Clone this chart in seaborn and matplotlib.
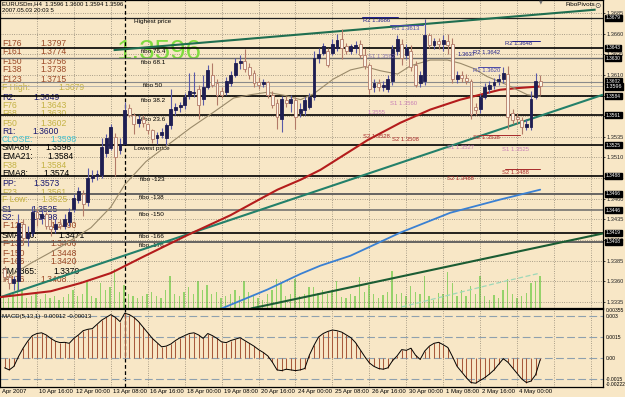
import matplotlib
matplotlib.use("Agg")
import matplotlib.pyplot as plt
import matplotlib.transforms as mtransforms
import numpy as np
import seaborn as sns

sns.set_style("white")
plt.rcParams["font.family"] = ["Liberation Sans", "DejaVu Sans"]

# ---------------- data (EURUSDm, H4) ----------------
opens = [1.3375, 1.3365, 1.3358, 1.3360, 1.3430, 1.3413, 1.3418, 1.3444, 1.3437, 1.3442,
         1.3427, 1.3423, 1.3430, 1.3427, 1.3432, 1.3447, 1.3459, 1.3466, 1.3456, 1.3485,
         1.3487, 1.3489, 1.3515, 1.3521, 1.3535, 1.3519, 1.3526, 1.3570, 1.3561, 1.3552,
         1.3557, 1.3550, 1.3543, 1.3533, 1.3537, 1.3533, 1.3549, 1.3567, 1.3571, 1.3573,
         1.3585, 1.3588, 1.3593, 1.3581, 1.3595, 1.3610, 1.3600, 1.3591, 1.3589, 1.3600,
         1.3610, 1.3624, 1.3627, 1.3619, 1.3612, 1.3601, 1.3599, 1.3601, 1.3586, 1.3576,
         1.3557, 1.3580, 1.3576, 1.3579, 1.3564, 1.3567, 1.3571, 1.3583, 1.3631, 1.3637,
         1.3639, 1.3636, 1.3643, 1.3653, 1.3645, 1.3639, 1.3643, 1.3648, 1.3634, 1.3622,
         1.3595, 1.3600, 1.3595, 1.3593, 1.3603, 1.3639, 1.3647, 1.3634, 1.3639, 1.3622,
         1.3600, 1.3603, 1.3658, 1.3646, 1.3651, 1.3647, 1.3651, 1.3648, 1.3605, 1.3610,
         1.3606, 1.3603, 1.3571, 1.3569, 1.3583, 1.3593, 1.3598, 1.3603, 1.3605, 1.3611,
         1.3564, 1.3559, 1.3555, 1.3547, 1.3547, 1.3583, 1.3603]
highs = [1.3379, 1.3370, 1.3367, 1.3442, 1.3435, 1.3427, 1.3451, 1.3449, 1.3447, 1.3444,
         1.3435, 1.3435, 1.3435, 1.3441, 1.3449, 1.3466, 1.3474, 1.3471, 1.3497, 1.3495,
         1.3495, 1.3533, 1.3539, 1.3550, 1.3540, 1.3533, 1.3577, 1.3575, 1.3564, 1.3562,
         1.3562, 1.3552, 1.3545, 1.3541, 1.3546, 1.3552, 1.3593, 1.3576, 1.3577, 1.3588,
         1.3612, 1.3613, 1.3598, 1.3610, 1.3622, 1.3624, 1.3605, 1.3595, 1.3607, 1.3615,
         1.3631, 1.3634, 1.3641, 1.3624, 1.3616, 1.3607, 1.3605, 1.3603, 1.3591, 1.3581,
         1.3585, 1.3585, 1.3586, 1.3583, 1.3576, 1.3583, 1.3588, 1.3639, 1.3643, 1.3649,
         1.3642, 1.3653, 1.3659, 1.3666, 1.3649, 1.3648, 1.3651, 1.3652, 1.3643, 1.3624,
         1.3605, 1.3605, 1.3603, 1.3610, 1.3646, 1.3658, 1.3653, 1.3648, 1.3646, 1.3627,
         1.3615, 1.3678, 1.3661, 1.3655, 1.3655, 1.3658, 1.3660, 1.3655, 1.3615, 1.3615,
         1.3611, 1.3605, 1.3576, 1.3587, 1.3600, 1.3603, 1.3606, 1.3611, 1.3619, 1.3621,
         1.3569, 1.3564, 1.3559, 1.3557, 1.3591, 1.3612, 1.3610]
lows = [1.3360, 1.3351, 1.3349, 1.3349, 1.3406, 1.3403, 1.3415, 1.3427, 1.3430, 1.3423,
        1.3415, 1.3418, 1.3423, 1.3423, 1.3427, 1.3444, 1.3455, 1.3439, 1.3451, 1.3480,
        1.3483, 1.3485, 1.3511, 1.3519, 1.3487, 1.3514, 1.3527, 1.3559, 1.3539, 1.3547,
        1.3547, 1.3539, 1.3527, 1.3526, 1.3533, 1.3525, 1.3545, 1.3562, 1.3565, 1.3569,
        1.3581, 1.3583, 1.3557, 1.3574, 1.3593, 1.3595, 1.3573, 1.3582, 1.3586, 1.3597,
        1.3607, 1.3617, 1.3613, 1.3605, 1.3595, 1.3593, 1.3595, 1.3582, 1.3570, 1.3545,
        1.3541, 1.3571, 1.3565, 1.3545, 1.3559, 1.3562, 1.3569, 1.3579, 1.3625, 1.3634,
        1.3619, 1.3634, 1.3639, 1.3629, 1.3635, 1.3635, 1.3637, 1.3631, 1.3617, 1.3587,
        1.3589, 1.3591, 1.3591, 1.3589, 1.3598, 1.3634, 1.3622, 1.3629, 1.3615, 1.3595,
        1.3595, 1.3598, 1.3642, 1.3641, 1.3641, 1.3639, 1.3635, 1.3600, 1.3600, 1.3601,
        1.3599, 1.3557, 1.3562, 1.3564, 1.3581, 1.3588, 1.3593, 1.3598, 1.3600, 1.3545,
        1.3550, 1.3551, 1.3539, 1.3543, 1.3543, 1.3581, 1.3586]
closes = [1.3365, 1.3358, 1.3363, 1.3431, 1.3413, 1.3418, 1.3444, 1.3437, 1.3442, 1.3427,
          1.3423, 1.3430, 1.3427, 1.3435, 1.3444, 1.3461, 1.3469, 1.3454, 1.3485, 1.3487,
          1.3490, 1.3523, 1.3533, 1.3547, 1.3511, 1.3526, 1.3568, 1.3562, 1.3551, 1.3557,
          1.3552, 1.3543, 1.3532, 1.3537, 1.3541, 1.3549, 1.3569, 1.3571, 1.3573, 1.3583,
          1.3591, 1.3589, 1.3574, 1.3595, 1.3616, 1.3598, 1.3586, 1.3586, 1.3603, 1.3610,
          1.3624, 1.3627, 1.3617, 1.3610, 1.3600, 1.3598, 1.3601, 1.3586, 1.3574, 1.3559,
          1.3581, 1.3576, 1.3581, 1.3559, 1.3569, 1.3579, 1.3583, 1.3631, 1.3635, 1.3645,
          1.3622, 1.3648, 1.3652, 1.3643, 1.3639, 1.3645, 1.3646, 1.3634, 1.3621, 1.3593,
          1.3600, 1.3595, 1.3598, 1.3605, 1.3641, 1.3653, 1.3631, 1.3643, 1.3619, 1.3598,
          1.3610, 1.3658, 1.3646, 1.3651, 1.3647, 1.3652, 1.3646, 1.3605, 1.3610, 1.3606,
          1.3603, 1.3563, 1.3567, 1.3583, 1.3595, 1.3598, 1.3601, 1.3605, 1.3612, 1.3559,
          1.3555, 1.3556, 1.3547, 1.3550, 1.3581, 1.3603, 1.3596]
volumes = [480, 400, 560, 1200, 720, 400, 480, 640, 360, 560,
           400, 480, 320, 440, 560, 720, 480, 560, 1040, 480,
           400, 960, 720, 800, 1520, 640, 880, 560, 480, 400,
           480, 560, 640, 480, 400, 720, 1240, 560, 480, 640,
           800, 560, 1040, 720, 880, 560, 640, 400, 480, 560,
           720, 480, 1040, 640, 480, 400, 320, 560, 720, 1120,
           960, 480, 560, 1120, 480, 560, 800, 800, 600, 720,
           560, 720, 1040, 440, 400, 560, 480, 1200, 640, 880,
           560, 400, 520, 640, 1440, 560, 600, 480, 840, 640,
           560, 1240, 480, 320, 600, 560, 1400, 960, 480, 720,
           480, 840, 560, 1240, 480, 320, 520, 400, 720, 1120,
           560, 400, 480, 600, 960, 1040, 1240]
macd = [-0.00070, -0.00085, -0.00060, 0.00010, 0.00070, 0.00120, 0.00160, 0.00175, 0.00180, 0.00165,
        0.00140, 0.00120, 0.00110, 0.00112, 0.00105, 0.00140, 0.00165, 0.00195, 0.00205, 0.00210,
        0.00240, 0.00270, 0.00290, 0.00310, 0.00290, 0.00260, 0.00320, 0.00310, 0.00290, 0.00260,
        0.00220, 0.00180, 0.00140, 0.00110, 0.00080, 0.00085, 0.00100, 0.00125, 0.00145, 0.00160,
        0.00175, 0.00180, 0.00165, 0.00140, 0.00175, 0.00160, 0.00140, 0.00115, 0.00110, 0.00125,
        0.00135, 0.00145, 0.00125, 0.00105, 0.00085, 0.00060, 0.00040, 0.00015, -0.00030, -0.00085,
        -0.00090, -0.00080, -0.00085, -0.00090, -0.00085, -0.00075, 0.00020, 0.00090, 0.00150, 0.00175,
        0.00190, 0.00200, 0.00195, 0.00185, 0.00165, 0.00145, 0.00110, 0.00060, 0.00010, -0.00035,
        -0.00060, -0.00075, -0.00080, -0.00070, -0.00020, 0.00015, 0.00060, 0.00055, 0.00070, 0.00020,
        -0.00010, 0.00050, 0.00085, 0.00105, 0.00112, 0.00095, 0.00075, 0.00010, -0.00060, -0.00100,
        -0.00140, -0.00175, -0.00180, -0.00160, -0.00140, -0.00115, -0.00085, -0.00045, -0.00005, -0.00030,
        -0.00070, -0.00110, -0.00150, -0.00175, -0.00165, -0.00120, -0.00012]

# moving averages (bar position, price)
sma89_bars = [0.2, 11.0, 17.5, 24.0, 31.1, 40.6, 49.9, 57.1, 60.1, 65.1, 69.4, 79.6, 86.7, 93.2, 99.7, 108.3, 112.0, 117.0]
sma89_vals = [1.3341, 1.3348, 1.3358, 1.3370, 1.3390, 1.3416, 1.3440, 1.3462, 1.3471, 1.3483, 1.3495, 1.3531,
              1.3552, 1.3568, 1.3580, 1.3592, 1.3594, 1.3596]
ema21_bars = [0.9, 6.7, 13.2, 19.7, 24.0, 27.0, 31.6, 36.3, 41.3, 46.3, 50.6, 54.3, 57.9, 61.8, 65.1, 67.9,
              72.2, 75.9, 79.1, 82.4, 86.1, 88.9, 93.2, 96.9, 99.7, 102.5, 105.5, 109.8, 114.2, 117.0]
ema21_vals = [1.3362, 1.3382, 1.3402, 1.3425, 1.3450, 1.3477, 1.3505, 1.3525, 1.3546, 1.3565, 1.3582, 1.3586,
              1.3589, 1.3585, 1.3580, 1.3587, 1.3605, 1.3616, 1.3620, 1.3615, 1.3611, 1.3621, 1.3628, 1.3628,
              1.3624, 1.3618, 1.3608, 1.3598, 1.3586, 1.3584]
sma200_bars = [47.1, 57.9, 65.1, 69.4, 75.9, 86.7, 97.5, 108.3, 117.0]
sma200_vals = [1.3325, 1.3350, 1.3369, 1.3379, 1.3391, 1.3419, 1.3443, 1.3459, 1.3471]
sma365_bars = [87.0, 97.0, 107.0, 117.0]
sma365_vals = [1.3329, 1.3343, 1.3357, 1.3370]

# trend lines (start/end bar, start/end price)
trend_x = [[24.6, 129.0], [0.2, 130.6], [54.3, 130.6]]
trend_y = [[1.3640, 1.3689], [1.3341, 1.3586], [1.3327, 1.3418]]

# fibonacci / horizontal levels
fibo_levels = [1.3679, 1.3643, 1.3630, 1.3602, 1.3584, 1.3561, 1.3525, 1.3488, 1.3466, 1.3446, 1.3419, 1.3408]
fibo_names = ["Highest price", "fibo 76.4", "fibo 68.1", "fibo 50", "fibo 38.2", "fibo 23.6",
              "Lowest price", "fibo -123", "fibo -138", "fibo -150", "fibo -166", "fibo -176"]
last_price = 1.3596

price_ticks = [1.3335, 1.3360, 1.3385, 1.3410, 1.3435, 1.3460, 1.3485, 1.3510, 1.3535,
               1.3560, 1.3585, 1.3610, 1.3635, 1.3660, 1.3685]
time_labels = ["Apr 2007", "10 Apr 16:00", "12 Apr 00:00", "13 Apr 08:00", "16 Apr 16:00",
               "18 Apr 00:00", "19 Apr 08:00", "20 Apr 16:00", "24 Apr 00:00", "25 Apr 08:00",
               "26 Apr 16:00", "30 Apr 00:00", "1 May 08:00", "2 May 16:00", "4 May 00:00"]

panel_names = ["F176", "F161", "F150", "F138", "F123", "F High:", "R2:", "F76", "F68", "F50", "R1:",
               "CLOSE:", "SMA89:", "EMA21:", "F38", "EMA8:", "PP:", "F23", "F Low:", "S1", "S2:",
               "F-123", "SMA200:", "F-138", "F-150", "F-166", "SMA365:", "F-176"]
panel_values = ["1.3797", "1.3774", "1.3756", "1.3738", "1.3715", "1.3679", "1.3649", "1.3643", "1.3630",
                "1.3602", "1.3600", "1.3598", "1.3596", "1.3584", "1.3584", "1.3574", "1.3573", "1.3561",
                "1.3525", "1.3525", "1.3498", "1.3490", "1.3471", "1.3466", "1.3448", "1.3420", "1.3370",
                "1.3408"]

pivot_texts = ["R2 1.3686", "R1 1.3613", "S1 1.3562", "1.3637", "R2 1.3642", "R2 1.3648", "R1 1.3620",
               "S1 1.3560", "1.3555", "S2 1.3528", "S2 1.3508", "S1 1.3527", "S2 1.3538", "S1 1.3525",
               "S2 1.3488", "S2 1.3488"]

# ---------------- layout / styling ----------------
W, H = 625, 397
BG = "#f8e7c6"
BROWN, GOLD, NAVY, CYAN, BLK = "#9c4a28", "#c4b244", "#191970", "#48c4d0", "#000000"
panel_y = [43, 52, 61, 70, 79, 87, 97, 106, 114, 123, 131, 140, 148, 157, 166, 174, 183, 192, 200,
           209, 217, 226, 235, 244, 253, 262, 271, 280]
panel_vx = [40, 40, 40, 40, 40, 58, 33, 40, 40, 40, 32, 50, 45, 47, 40, 43, 33, 40, 41, 31, 31,
            50, 58, 50, 50, 50, 53, 40]
panel_col = [BROWN] * 5 + [GOLD, NAVY, GOLD, GOLD, GOLD, NAVY, CYAN, BLK, BLK, GOLD, BLK, NAVY, GOLD,
                           GOLD, NAVY, NAVY, BROWN, BLK, BROWN, BROWN, BROWN, BLK, BROWN]

PNAV, PBLU, PPUR, PPNK, PRED = "#20208a", "#4a4aa8", "#8a7ab0", "#c77db5", "#a82a2a"
pivot_pos = [(78.7, 1.36753), (85.0, 1.36656), (79.8, 1.36317), (99.0, 1.36341), (102.5, 1.36366),
             (109.4, 1.36475), (102.5, 1.36148), (84.5, 1.35748), (79.6, 1.35639), (78.7, 1.35348),
             (85.0, 1.35312), (96.9, 1.35215), (102.5, 1.35336), (108.8, 1.35191), (96.9, 1.34840),
             (108.8, 1.34924)]
pivot_col = [PNAV, PBLU, PPUR, PNAV, PNAV, PNAV, PBLU, PPNK, PPNK, PRED, PRED, PPNK, PRED, PPNK, PRED, PRED]
pivot_segs = [(78.5, 86.1, 1.36802, PNAV), (84.5, 91.7, 1.36705, PBLU), (110.9, 117.0, 1.36511, PNAV),
              (103.6, 108.3, 1.36196, PBLU), (104.0, 112.6, 1.35372, PRED), (109.4, 117.0, 1.34961, PRED)]

level_col = ["#202020", "#000000", "#6a6a6a", "#8a8a8a", "#000000", "#000000", "#000000", "#000000",
             "#5a5a5a", "#6a6a6a", "#000000", "#5a5a5a"]
level_lw = [0.9, 1.2, 1.0, 0.8, 1.2, 1.2, 1.2, 1.2, 1.3, 1.1, 1.2, 1.3]
fibo_lbl_x = [29.0, 30.5, 30.5, 30.9, 30.5, 30.5, 29.0, 30.3, 30.1, 30.1, 30.1, 30.1]

XLIM = (0.216, 130.6)
YLIM = (1.33277, 1.37007)
grid_bars = [8 * k for k in range(17)]

fig = plt.figure(figsize=(W / 100, H / 100), dpi=100, facecolor=BG)
rect_main = [0, (H - 308) / H, 603 / W, 308 / H]
rect_macd = [0, (H - 387) / H, 603 / W, (387 - 309) / H]

axv = fig.add_axes(rect_main, label="vol")
ax = fig.add_axes(rect_main, label="main")
ax2 = fig.add_axes(rect_macd, label="macd")

bars = np.arange(1, len(closes) + 1)

# volume (behind)
axv.set_facecolor(BG)
axv.bar(bars, volumes, width=0.3, color="#95d26a", linewidth=0)
axv.set_xlim(*XLIM)
axv.set_ylim(0, 12000)
axv.set_xticks([]); axv.set_yticks([])
for s in axv.spines.values():
    s.set_visible(False)

# main axes
ax.patch.set_visible(False)
ax.set_xlim(*XLIM)
ax.set_ylim(*YLIM)
ax.yaxis.tick_right()
ax.set_yticks(price_ticks)
ax.set_yticklabels([f"{t:.4f}" for t in price_ticks], fontsize=4.1)
ax.tick_params(axis="y", length=1.5, pad=1.0, width=0.6)
ax.set_xticks(grid_bars)
ax.set_xticklabels([])
ax.tick_params(axis="x", length=0)
ax.grid(True, ls=(0, (1, 2)), color="#7d7566", lw=0.55)
for s in ax.spines.values():
    s.set_color("black"); s.set_linewidth(0.9)

# horizontal levels
for lvl, c, lw in zip(fibo_levels, level_col, level_lw):
    ax.axhline(lvl, color=c, lw=lw, zorder=2)
ax.axhline(last_price, color="#a8a8a8", lw=0.6, zorder=2)
off = mtransforms.offset_copy(ax.transData, fig=fig, x=0, y=-1.2, units="dots")
for bx, lvl, name in zip(fibo_lbl_x, fibo_levels, fibo_names):
    ax.text(bx, lvl, name, fontsize=4.6, color="black", va="top", ha="left", transform=off, zorder=2.5)

# vertical dashed marker line
ax.axvline(27.0, color="black", lw=0.9, ls=(0, (3, 2)), zorder=2)
ax2.axvline(27.0, color="black", lw=0.9, ls=(0, (3, 2)), zorder=2)

# trend lines
tcol = ["#1f6e50", "#23806a", "#1b5c33"]
for xs, ys, c in zip(trend_x, trend_y, tcol):
    ax.plot(xs, ys, color=c, lw=1.5, zorder=3, solid_capstyle="butt")

# moving averages
sns.lineplot(x=sma89_bars, y=sma89_vals, ax=ax, color="#b41c1c", lw=1.5, zorder=3.2)
sns.lineplot(x=ema21_bars, y=ema21_vals, ax=ax, color="#9a8a6a", lw=0.8, zorder=3.2)
sns.lineplot(x=sma200_bars, y=sma200_vals, ax=ax, color="#3a80d2", lw=1.3, zorder=3.2)
sns.lineplot(x=sma365_bars, y=sma365_vals, ax=ax, color="#9ed8b8", lw=0.9, ls=(0, (4, 2)), zorder=3.2)

# candles
o = np.array(opens); h = np.array(highs); l = np.array(lows); c = np.array(closes)
bull = c >= o
wick_col = np.where(bull, "#5a5aa8", "#b27a68")
ax.vlines(bars, l, h, colors=wick_col, lw=0.8, zorder=4)
bottoms = np.minimum(o, c)
heights = np.maximum(np.abs(c - o), 0.00008)
face = np.where(bull, "#1e1e52", "#fbf3e4")
edge = np.where(bull, "#1e1e52", "#b27a68")
ax.bar(bars, heights, bottom=bottoms, width=0.62, color=face, edgecolor=edge, linewidth=0.6, zorder=5)

# pivot labels
for (bx, py), txt, col in zip(pivot_pos, pivot_texts, pivot_col):
    ax.text(bx, py, txt, fontsize=4.2, color=col, va="center", ha="left", zorder=6)
for b1, b2, py, col in pivot_segs:
    ax.plot([b1, b2], [py, py], color=col, lw=0.7, zorder=6)

# right price boxes
rtrans = mtransforms.blended_transform_factory(ax.transAxes, ax.transData)
for lvl in fibo_levels:
    ax.text(1.005, lvl, f"{lvl:.4f}", transform=rtrans, fontsize=3.5, color="white", va="center",
            ha="left", clip_on=False, zorder=10,
            bbox=dict(boxstyle="square,pad=0.12", fc="black", ec="black"))
ax.text(1.005, last_price, f"{last_price:.4f}", transform=rtrans, fontsize=3.9, color="white",
        va="center", ha="left", clip_on=False, zorder=11,
        bbox=dict(boxstyle="square,pad=0.12", fc="black", ec="black"))

# left info panel
def fx(x):
    return x / W

def fy(y):
    return 1 - y / H

for y, name, val, vx, col in zip(panel_y, panel_names, panel_values, panel_vx, panel_col):
    ax.text(fx(2), fy(y), name, transform=fig.transFigure, fontsize=6.2, color=col, va="center",
            ha="left", zorder=1.5)
    ax.text(fx(vx), fy(y), val, transform=fig.transFigure, fontsize=6.2, color=col, va="center",
            ha="left", zorder=1.5)

# big price
ax.text(fx(117), fy(52), f"{last_price:.4f}", transform=fig.transFigure, fontsize=20,
        color="#7fdc3f", va="center", ha="left", zorder=1.6)

# header
ax.text(fx(2), fy(4), "EURUSDm,H4  1.3596 1.3600 1.3594 1.3596", transform=fig.transFigure,
        fontsize=4.3, color="black", va="center", ha="left", zorder=7)
ax.text(fx(2), fy(11), "2007.05.03 20:03 5", transform=fig.transFigure, fontsize=4.3, color="black",
        va="center", ha="left", zorder=7)
ax.text(fx(566), fy(5), "FiboPivots", transform=fig.transFigure, fontsize=4.6, color="black",
        va="center", ha="left", zorder=7)
ax.text(fx(594), fy(5), "\u2299", transform=fig.transFigure, fontsize=5.5, color="#404040",
        va="center", ha="left", zorder=7, family="DejaVu Sans")
ax.text(fx(541), fy(2), "\u25bc", transform=fig.transFigure, fontsize=3.5, color="#707070",
        va="center", ha="center", zorder=7, family="DejaVu Sans")

# ---------------- MACD panel ----------------
ax2.set_facecolor(BG)
ax2.set_xlim(*XLIM)
ax2.set_ylim(-0.00207, 0.0035)
ax2.vlines(bars, 0, macd, colors="#a85a3c", lw=0.75, zorder=3)
sns.lineplot(x=bars, y=macd, ax=ax2, color="black", lw=0.7, zorder=4)
for lv in [0.003, 0.0015, 0.0, -0.0015]:
    ax2.axhline(lv, color="#8ea0ae", lw=0.8, ls=(0, (7, 3)), zorder=2)
for gb in grid_bars:
    ax2.axvline(gb, color="#7d7566", lw=0.55, ls=(0, (1, 2)), zorder=1)
ax2.set_yticks([])
ax2.set_xticks(grid_bars)
ax2.set_xticklabels([])
ax2.tick_params(axis="x", length=2, width=0.6, direction="out")
for s in ax2.spines.values():
    s.set_color("black"); s.set_linewidth(0.9)
ax2.text(fx(2) / rect_macd[2], 0.9, "MACD(5,13,1) -0.00012 -0.00013", transform=ax2.transAxes,
         fontsize=4.3, color="black", va="center", ha="left")
mtrans = mtransforms.blended_transform_factory(ax2.transAxes, ax2.transData)
for val, txt in [(0.00340, "0.00355"), (0.00300, "0.003"), (0.0015, "0.0015"), (0.0, "0.00"),
                 (-0.0015, "-0.0015"), (-0.00188, "-0.00222")]:
    ax2.text(1.004, val, txt, transform=mtrans, fontsize=3.6, color="black", va="center",
             ha="left", clip_on=False)

# time labels
xtrans = mtransforms.blended_transform_factory(ax2.transData, fig.transFigure)
for k, lbl in enumerate(time_labels):
    ax2.text(8 * k + 0.5, fy(392), lbl, transform=xtrans, fontsize=4.3, color="black",
             va="center", ha="left", clip_on=False)

fig.savefig("out.png", dpi=100, facecolor=BG)
